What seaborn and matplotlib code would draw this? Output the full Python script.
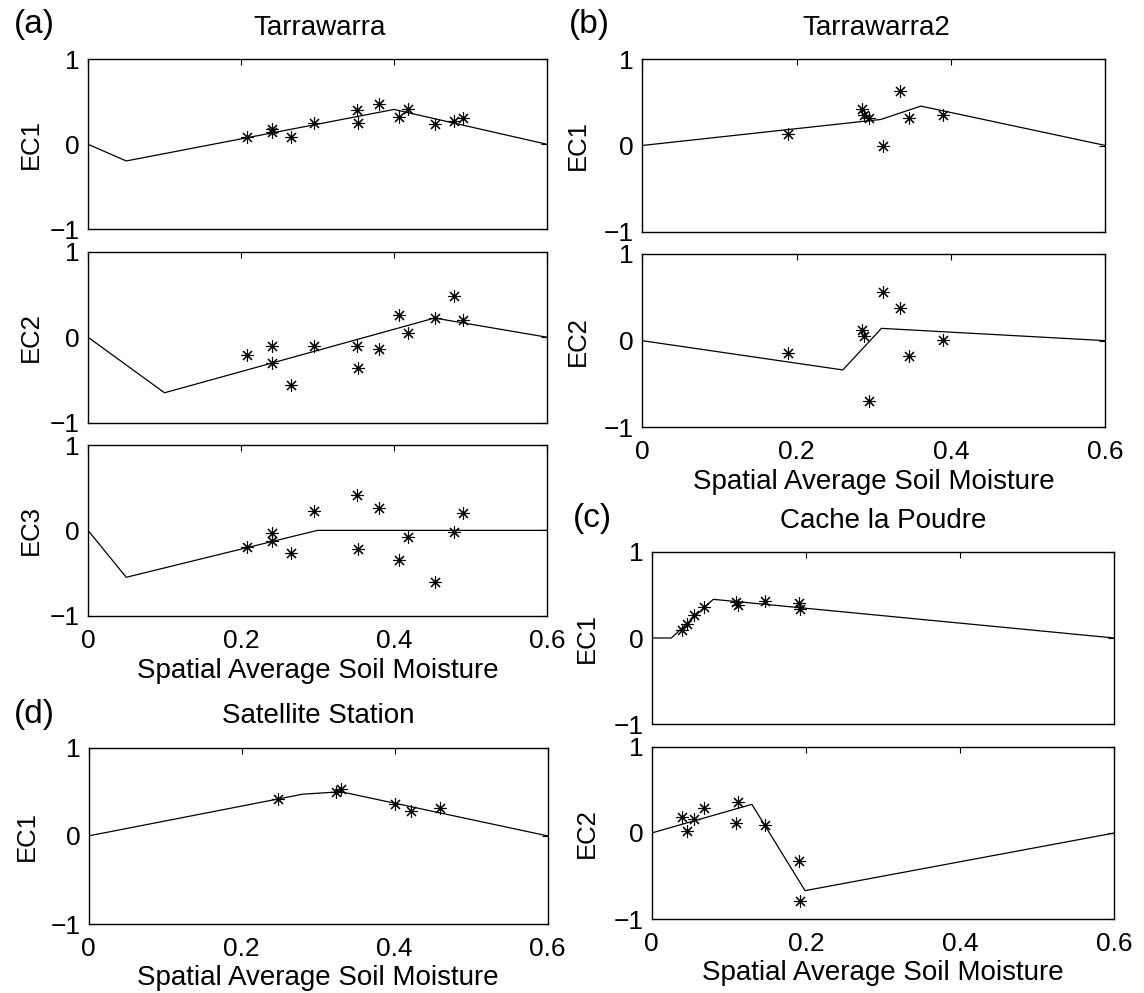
import matplotlib
matplotlib.use("Agg")
import matplotlib.pyplot as plt
import seaborn as sns

# ---------------- data ----------------
# (a) Tarrawarra
a_sm = [0.208, 0.240, 0.241, 0.265, 0.296, 0.352, 0.353, 0.380, 0.407, 0.418, 0.453, 0.478, 0.490]
a_ec1 = [0.09, 0.176, 0.14, 0.09, 0.255, 0.404, 0.247, 0.47, 0.318, 0.41, 0.24, 0.278, 0.31]
a_ec2 = [-0.213, -0.108, -0.30, -0.56, -0.108, -0.108, -0.355, -0.135, 0.255, 0.05, 0.224, 0.48, 0.196]
a_ec3 = [-0.2, -0.027, -0.12, -0.27, 0.227, 0.414, -0.219, 0.266, -0.35, -0.074, -0.61, -0.02, 0.2]
a_fit1_x = [0.0, 0.05, 0.40, 0.6]
a_fit1_y = [0.0, -0.196, 0.41, 0.0]
a_fit2_x = [0.0, 0.10, 0.453, 0.6]
a_fit2_y = [0.0, -0.65, 0.224, 0.0]
a_fit3_x = [0.0, 0.05, 0.30, 0.6]
a_fit3_y = [0.0, -0.55, 0.0, 0.0]

# (b) Tarrawarra2
b_sm = [0.189, 0.285, 0.288, 0.294, 0.312, 0.334, 0.345, 0.389]
b_ec1 = [0.132, 0.419, 0.353, 0.314, 0.0, 0.632, 0.322, 0.353]
b_ec2 = [-0.146, 0.123, 0.054, -0.70, 0.558, 0.373, -0.177, 0.008]
b_fit1_x = [0.0, 0.309, 0.361, 0.6]
b_fit1_y = [0.0, 0.302, 0.457, 0.0]
b_fit2_x = [0.0, 0.26, 0.31, 0.6]
b_fit2_y = [0.0, -0.338, 0.142, 0.0]

# (c) Cache la Poudre
c_sm = [0.040, 0.046, 0.055, 0.068, 0.109, 0.112, 0.147, 0.191, 0.192]
c_ec1 = [0.089, 0.166, 0.27, 0.359, 0.417, 0.378, 0.43, 0.405, 0.332]
c_ec2 = [0.181, 0.027, 0.162, 0.293, 0.112, 0.363, 0.093, -0.32, -0.784]
c_fit1_x = [0.0, 0.0256, 0.080, 0.6]
c_fit1_y = [0.0, 0.0, 0.448, 0.0]
c_fit2_x = [0.0, 0.130, 0.199, 0.6]
c_fit2_y = [0.0, 0.332, -0.668, 0.0]

# (d) Satellite Station
d_sm = [0.248, 0.323, 0.330, 0.401, 0.4215, 0.459]
d_ec1 = [0.418, 0.50, 0.527, 0.357, 0.285, 0.316]
d_fit1_x = [0.0, 0.28, 0.33, 0.6]
d_fit1_y = [0.0, 0.473, 0.50, 0.0]

x_ticks = [0, 0.2, 0.4, 0.6]
x_ticklabels = ["0", "0.2", "0.4", "0.6"]
y_ticks = [-1, 0, 1]
y_ticklabels = ["\u22121", "0", "1"]
xlabel_text = "Spatial Average Soil Moisture"

# ---------------- style ----------------
sns.set_theme(style="white")
plt.rcParams["font.family"] = ["Liberation Sans", "DejaVu Sans"]
plt.rcParams["axes.edgecolor"] = "black"
plt.rcParams["axes.linewidth"] = 1.0

W, H = 1144, 993
fig = plt.figure(figsize=(W / 100, H / 100), dpi=100)
fig.patch.set_facecolor("white")

FS_TICK = 19
FS_XLAB = 20
FS_YLAB = 18.5
FS_TITLE = 20
FS_LETTER = 24


def add_ax(left, right, top, bottom):
    return fig.add_axes([left / W, 1 - bottom / H, (right - left) / W, (bottom - top) / H])


def draw(ax, sm, ec, fx, fy, ylab, show_x, ylab_x_px, ax_left_px, ax_w_px,
         xlab_y_px=None, ax_bottom_px=None, ax_h_px=None):
    sns.lineplot(x=fx, y=fy, ax=ax, color="black", linewidth=0.9, estimator=None, sort=False)
    sns.scatterplot(x=sm, y=ec, ax=ax, marker=(8, 2, 0), color="black", s=75,
                    linewidth=0.8, edgecolor="black")
    ax.set_xlim(0, 0.6)
    ax.set_ylim(-1, 1)
    ax.set_xticks(x_ticks)
    ax.set_yticks(y_ticks)
    ax.set_yticklabels(y_ticklabels)
    if show_x:
        ax.set_xticklabels(x_ticklabels)
    else:
        ax.set_xticklabels([])
    ax.tick_params(axis="both", direction="in", length=4, width=0.8, top=True, right=True,
                   labelsize=FS_TICK, colors="black")
    ax.tick_params(axis="x", pad=9.5)
    ax.tick_params(axis="y", pad=6)
    for sp in ax.spines.values():
        sp.set_visible(True)
        sp.set_color("black")
        sp.set_linewidth(1.0)
    ax.set_ylabel(ylab, fontsize=FS_YLAB, color="black")
    ax.yaxis.set_label_coords((ylab_x_px - ax_left_px) / ax_w_px, 0.5)
    ax.yaxis.label.set_va("center")
    if show_x:
        ax.set_xlabel(xlabel_text, fontsize=FS_XLAB, color="black")
        ax.xaxis.set_label_coords(0.5, -(xlab_y_px - ax_bottom_px) / ax_h_px)
        ax.xaxis.label.set_va("center")
    else:
        ax.set_xlabel("")


# panel (a)
aL, aR = 88, 547
ax_a1 = add_ax(aL, aR, 59.3, 229.3)
ax_a2 = add_ax(aL, aR, 251.7, 422.7)
ax_a3 = add_ax(aL, aR, 445, 615.7)
draw(ax_a1, a_sm, a_ec1, a_fit1_x, a_fit1_y, "EC1", False, 31, aL, aR - aL)
draw(ax_a2, a_sm, a_ec2, a_fit2_x, a_fit2_y, "EC2", False, 31, aL, aR - aL)
draw(ax_a3, a_sm, a_ec3, a_fit3_x, a_fit3_y, "EC3", True, 31, aL, aR - aL,
     671, 615.7, 615.7 - 445)

# panel (d)
dL, dR = 88.8, 547.5
ax_d = add_ax(dL, dR, 747.7, 924)
draw(ax_d, d_sm, d_ec1, d_fit1_x, d_fit1_y, "EC1", True, 27, dL, dR - dL,
     978, 924, 924 - 747.7)

# panel (b)
bL, bR = 642, 1105.5
ax_b1 = add_ax(bL, bR, 59.3, 231.7)
ax_b2 = add_ax(bL, bR, 254, 427.3)
draw(ax_b1, b_sm, b_ec1, b_fit1_x, b_fit1_y, "EC1", False, 578, bL, bR - bL)
draw(ax_b2, b_sm, b_ec2, b_fit2_x, b_fit2_y, "EC2", True, 578, bL, bR - bL,
     482, 427.3, 427.3 - 254)

# panel (c)
cL, cR = 651.6, 1114.3
ax_c1 = add_ax(cL, cR, 551.7, 724.3)
ax_c2 = add_ax(cL, cR, 746.7, 919.3)
draw(ax_c1, c_sm, c_ec1, c_fit1_x, c_fit1_y, "EC1", False, 587, cL, cR - cL)
draw(ax_c2, c_sm, c_ec2, c_fit2_x, c_fit2_y, "EC2", True, 587, cL, cR - cL,
     973, 919.3, 919.3 - 746.7)

# titles and panel letters
def ftext(x, y, s, size):
    fig.text(x / W, 1 - y / H, s, fontsize=size, ha="center", va="center", color="black")

ftext(320, 28, "Tarrawarra", FS_TITLE)
ftext(876, 28, "Tarrawarra2", FS_TITLE)
ftext(883, 521, "Cache la Poudre", FS_TITLE)
ftext(318, 716, "Satellite Station", FS_TITLE)
ftext(34, 25, "(a)", FS_LETTER)
ftext(589, 25, "(b)", FS_LETTER)
ftext(592, 518, "(c)", FS_LETTER)
ftext(34, 714, "(d)", FS_LETTER)

fig.savefig("out.png", dpi=100, facecolor="white")
